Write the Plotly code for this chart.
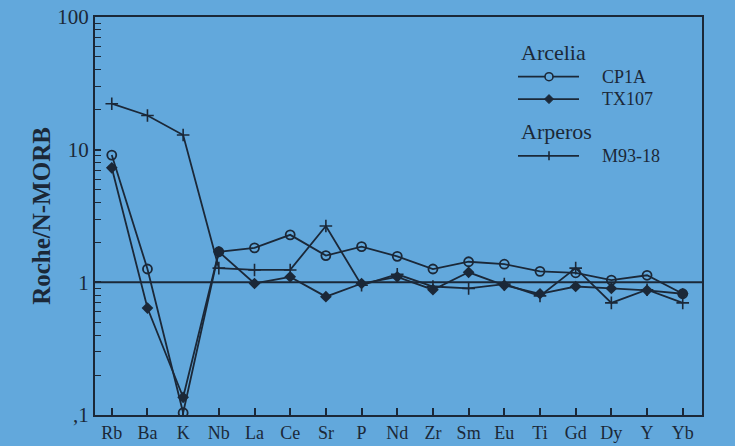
import plotly.graph_objects as go

# Trace elements, normalised to N-MORB
elements = ["Rb", "Ba", "K", "Nb", "La", "Ce", "Sr", "P", "Nd", "Zr",
            "Sm", "Eu", "Ti", "Gd", "Dy", "Y", "Yb"]

cp1a = [9.1, 1.26, 0.104, 1.70, 1.82, 2.28, 1.59, 1.86, 1.57, 1.26,
        1.43, 1.37, 1.21, 1.18, 1.04, 1.13, 0.82]
tx107 = [7.3, 0.64, 0.136, 1.70, 0.98, 1.10, 0.78, 0.98, 1.10, 0.88,
         1.19, 0.95, 0.82, 0.93, 0.90, 0.87, 0.82]
m93_18 = [22.2, 18.1, 12.9, 1.28, 1.24, 1.24, 2.66, 0.95, 1.15, 0.93,
          0.90, 0.97, 0.79, 1.28, 0.70, 0.88, 0.70]

y_tickvals = [0.1, 1, 10, 100]
y_ticktext = [",1", "1", "10", "100"]

# Legend content: (group title, [(sample name, key style)])
legend_groups = [
    ("Arcelia", [("CP1A", "circle"), ("TX107", "diamond")]),
    ("Arperos", [("M93-18", "tick")]),
]

BG = "#62a8dc"
INK = "#1b2838"
FONT = "Liberation Serif"

W, H = 735, 446
ML, MR, MT, MB = 95, 33, 17, 31
PW, PH = W - ML - MR, H - MT - MB


def px(x):
    return (x - ML) / PW


def py(y):
    return (H - MB - y) / PH


fig = go.Figure()

fig.add_trace(go.Scatter(
    x=elements, y=cp1a, name="CP1A", mode="lines+markers",
    line=dict(color=INK, width=1.8),
    marker=dict(symbol="circle-open", size=9, color=INK, line=dict(width=1.8, color=INK)),
))
fig.add_trace(go.Scatter(
    x=elements, y=tx107, name="TX107", mode="lines+markers",
    line=dict(color=INK, width=1.8),
    marker=dict(symbol="diamond", size=9, color=INK),
))
fig.add_trace(go.Scatter(
    x=elements, y=m93_18, name="M93-18", mode="lines+markers",
    line=dict(color=INK, width=1.8),
    marker=dict(symbol="cross-thin", size=9, color=INK, line=dict(width=1.6, color=INK)),
))

# Reference level: rock = N-MORB
fig.add_shape(type="line", xref="paper", x0=0, x1=1, yref="y", y0=1, y1=1,
              line=dict(color=INK, width=2))

# Legend block, laid out in pixels inside the plot area
title_x, key_x0, key_x1, key_mid, label_x = 519, 518, 579, 549, 600
row_y = 52.7
for title, entries in legend_groups:
    fig.add_annotation(x=px(title_x), y=py(row_y), xref="paper", yref="paper",
                       text=title, showarrow=False, xanchor="left", yanchor="middle",
                       font=dict(size=22, color=INK))
    row_y += 24
    for name, style in entries:
        yk = py(row_y)
        fig.add_shape(type="line", xref="paper", yref="paper",
                      x0=px(key_x0), x1=px(key_x1), y0=yk, y1=yk,
                      line=dict(color=INK, width=1.8))
        if style == "circle":
            fig.add_shape(type="circle", xref="paper", yref="paper",
                          xsizemode="pixel", ysizemode="pixel",
                          xanchor=px(key_mid), yanchor=yk,
                          x0=-4, x1=4, y0=-4, y1=4,
                          fillcolor=BG, line=dict(color=INK, width=1.6))
        elif style == "diamond":
            fig.add_shape(type="path", xref="paper", yref="paper",
                          xsizemode="pixel", ysizemode="pixel",
                          xanchor=px(key_mid), yanchor=yk,
                          path="M-4.5,0 L0,4.5 L4.5,0 L0,-4.5 Z",
                          fillcolor=INK, line=dict(color=INK, width=1))
        else:
            fig.add_shape(type="line", xref="paper", yref="paper",
                          xsizemode="pixel", ysizemode="pixel",
                          xanchor=px(key_mid), yanchor=yk,
                          x0=0, x1=0, y0=-4.5, y1=4.5,
                          line=dict(color=INK, width=1.6))
        fig.add_annotation(x=px(label_x), y=yk, xref="paper", yref="paper",
                           text=name, showarrow=False, xanchor="left", yanchor="middle",
                           font=dict(size=18, color=INK))
        row_y += 22.4
    row_y += 10.3

minor_vals = [m * 10 ** e for e in (-1, 0, 1) for m in range(2, 10)]

fig.update_layout(
    width=W, height=H,
    margin=dict(l=ML, r=MR, t=MT, b=MB),
    paper_bgcolor=BG, plot_bgcolor=BG,
    font=dict(family=FONT, color=INK, size=18),
    showlegend=False,
    xaxis=dict(
        type="category", range=[-0.47, 16.54], automargin=False,
        showline=True, linecolor=INK, linewidth=2, mirror=True,
        ticks="inside", ticklen=7, tickwidth=1.5, tickcolor=INK,
        showgrid=False, zeroline=False,
        tickfont=dict(size=18, color=INK),
    ),
    yaxis=dict(
        type="log", range=[-1, 2], automargin=False,
        showline=True, linecolor=INK, linewidth=2, mirror=True,
        tickvals=y_tickvals, ticktext=y_ticktext,
        ticks="inside", ticklen=6, tickwidth=1.5, tickcolor=INK,
        minor=dict(tickvals=minor_vals, ticks="inside", ticklen=6,
                   tickwidth=1.2, tickcolor=INK, showgrid=False),
        showgrid=False, zeroline=False,
        tickfont=dict(size=21, color=INK),
        title=dict(text="<b>Roche/N-MORB</b>", font=dict(size=25, color=INK), standoff=0),
    ),
)

fig.write_html("out.html")
